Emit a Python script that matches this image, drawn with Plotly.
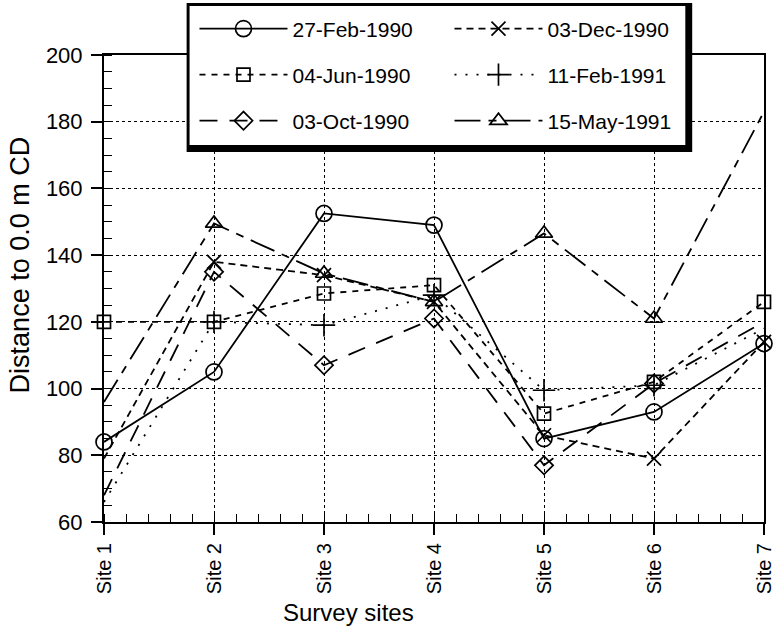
import plotly.graph_objects as go

# ---------------- data ----------------
sites = ["Site 1", "Site 2", "Site 3", "Site 4", "Site 5", "Site 6", "Site 7"]
feb_1990 = [84, 105, 152.5, 149, 85, 93, 113.5]
dec_1990 = [79, 138, 134, 126, 86, 79, 114]
jun_1990 = [120, 120, 128.5, 131, 92.5, 102, 126]
feb_1991 = [66, 120, 119, 128, 99.5, 101, 118]
oct_1990 = [68, 135, 107, 121, 77, 101.5, 120]
may_1991 = [96, 149.5, 134.5, 126, 146.5, 121, 183]
y_ticks = [60, 80, 100, 120, 140, 160, 180, 200]

FONT = "Liberation Sans, Arial, Helvetica, sans-serif"
xpos = list(range(len(sites)))

# name, values, symbol, size, dash, legend, indices of markers that show
series = [
    ("27-Feb-1990", feb_1990, "circle-open", 16, "solid", "legend", [0, 1, 2, 3, 4, 5, 6]),
    ("03-Dec-1990", dec_1990, "x-thin-open", 14, "7px,5px", "legend", [1, 2, 3, 4, 5, 6]),
    ("04-Jun-1990", jun_1990, "square-open", 13, "6px,6px", "legend2", [0, 1, 2, 3, 4, 5, 6]),
    ("11-Feb-1991", feb_1991, "cross-thin-open", 16, "2px,9px", "legend2", [1, 2, 3, 4, 5]),
    ("03-Oct-1990", oct_1990, "diamond-open", 14, "18px,12px", "legend3", [1, 2, 3, 4, 5]),
    ("15-May-1991", may_1991, "triangle-up-open", 15, "26px,8px,8px,8px", "legend3", [1, 2, 3, 4, 5]),
]

fig = go.Figure()
for name, vals, sym, size, dash, leg, shown in series:
    fig.add_trace(go.Scatter(
        x=xpos, y=vals, name=name, mode="lines+markers",
        line=dict(color="black", width=1.8, dash=dash),
        marker=dict(symbol=sym, size=size, color="black",
                    line=dict(color="black", width=1.7)),
        selectedpoints=shown,
        unselected=dict(marker=dict(opacity=0)),
        cliponaxis=False,
        legend=leg,
    ))

# plot area in px: left 104, right 775, top 55, bottom 522
L, R, T, B = 104, 775, 55, 522
W, H = R - L, B - T

def px_x(p):
    return (p - L) / W

def px_y(p):
    return (B - p) / H

leg_common = dict(orientation="h", xanchor="left", yanchor="middle",
                  bgcolor="rgba(0,0,0,0)", borderwidth=0,
                  font=dict(family=FONT, size=21, color="black"),
                  entrywidth=152, entrywidthmode="pixels",
                  itemwidth=88, traceorder="normal")

fig.update_layout(
    width=783, height=630,
    margin=dict(l=L, r=783 - R, t=T, b=630 - B),
    paper_bgcolor="white", plot_bgcolor="white",
    font=dict(family=FONT, color="black"),
    legend=dict(x=px_x(196), y=px_y(29), **leg_common),
    legend2=dict(x=px_x(196), y=px_y(75), **leg_common),
    legend3=dict(x=px_x(196), y=px_y(121), **leg_common),
    xaxis=dict(
        range=[0, len(sites) - 1], tickvals=xpos, ticktext=sites,
        tickangle=-90, tickfont=dict(size=20, family=FONT),
        ticklabeloverflow="allow",
        ticks="outside", ticklen=11, tickwidth=1.5, tickcolor="black",
        showline=True, linewidth=2, linecolor="black", mirror=True,
        showgrid=True, gridcolor="black", griddash="dot", gridwidth=1,
        zeroline=False,
        minor=dict(ticks="inside", dtick=0.2, ticklen=8, tickwidth=1.2,
                   tickcolor="black", showgrid=False),
    ),
    yaxis=dict(
        range=[60, 200], tickvals=y_ticks,
        tickfont=dict(size=22, family=FONT),
        ticklabelstandoff=4, ticklabeloverflow="allow",
        ticks="outside", ticklen=11, tickwidth=1.5, tickcolor="black",
        showline=True, linewidth=2, linecolor="black", mirror=True,
        showgrid=True, gridcolor="black", griddash="dot", gridwidth=1,
        zeroline=False,
        minor=dict(ticks="inside", dtick=5, ticklen=8, tickwidth=1.2,
                   tickcolor="black", showgrid=False),
    ),
    xaxis2=dict(overlaying="x", anchor="y", side="top", matches="x",
                range=[0, len(sites) - 1], tickvals=xpos, showticklabels=False,
                ticks="inside", ticklen=12, tickwidth=1.5, tickcolor="black",
                showgrid=False, zeroline=False, showline=False,
                minor=dict(ticks="inside", dtick=0.2, ticklen=8, tickwidth=1.2,
                           tickcolor="black", showgrid=False)),
    yaxis2=dict(overlaying="y", anchor="x", side="right", matches="y",
                range=[60, 200], tickvals=y_ticks, showticklabels=False,
                ticks="inside", ticklen=12, tickwidth=1.5, tickcolor="black",
                showgrid=False, zeroline=False, showline=False,
                minor=dict(ticks="inside", dtick=5, ticklen=8, tickwidth=1.2,
                           tickcolor="black", showgrid=False)),
)

# legend box with heavy shadow border
fig.add_shape(type="rect", xref="paper", yref="paper",
              x0=px_x(188), x1=px_x(702), y0=px_y(152), y1=px_y(3),
              fillcolor="black", line=dict(width=0), layer="above")
fig.add_shape(type="rect", xref="paper", yref="paper",
              x0=px_x(191), x1=px_x(695), y0=px_y(145), y1=px_y(6),
              fillcolor="white", line=dict(width=0), layer="above")

fig.add_annotation(text="Distance to 0.0 m CD", xref="paper", yref="paper",
                   x=px_x(19), y=px_y(265), xanchor="center", yanchor="middle",
                   textangle=-90, showarrow=False,
                   font=dict(size=27, family=FONT, color="black"))
fig.add_annotation(text="Survey sites", xref="paper", yref="paper",
                   x=px_x(353), y=px_y(612), xanchor="center", yanchor="middle",
                   showarrow=False, font=dict(size=24, family=FONT, color="black"))

fig.write_html("out.html")
